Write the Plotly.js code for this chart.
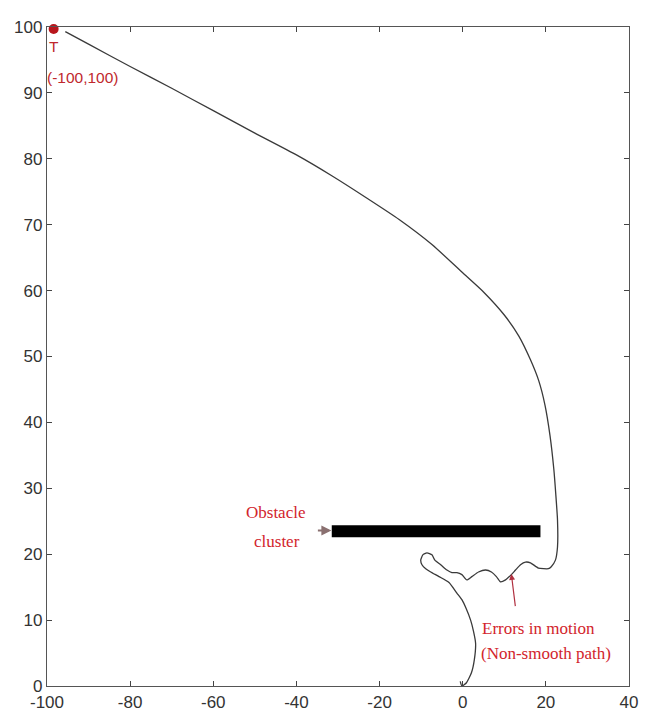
<!DOCTYPE html>
<html>
<head>
<meta charset="utf-8">
<script src="https://cdn.plot.ly/plotly-3.0.1.min.js"></script>
<style>html,body{margin:0;padding:0;background:#fff;}#chart{width:653px;height:720px;}</style>
</head>
<body>
<div id="chart"></div>
<script>
// Robot path from start (0,0) to target T (-100,100)
const pathX = [-0.6, -0.2, 0.9, 2.1, 2.8, 3.1, 2.6, 1.9, 0.8, -0.2, -1.4, -3.3, -5.7, -7.7, -8.9, -9.8, -10.1, -9.6, -8.6, -7.4, -6.7, -5.3, -3.8, -2.6, -1.4, -0.2, 1.0, 2.2, 3.8, 5.5, 6.9, 8.1, 9.1, 10.3, 11.7, 12.7, 13.9, 15.1, 16.3, 18.2, 20.6, 21.3, 22.3, 22.8, 22.8, 22.4, 21.9, 21.0, 19.8, 18.3, 16.3, 13.5, 10.0, 5.0, 0.0, -7.4, -15.3, -23.2, -31.4, -40, -50, -60, -70, -80, -90, -95.6];
const pathY = [0.7, 0.0, 0.5, 2.0, 4.0, 6.5, 8.3, 10.0, 11.8, 13.1, 14.1, 15.7, 16.6, 17.3, 17.8, 18.4, 19.1, 19.9, 20.2, 19.9, 19.1, 18.4, 17.6, 17.2, 17.2, 16.9, 16.1, 16.6, 17.3, 17.6, 17.3, 16.6, 15.8, 16.1, 16.9, 17.6, 18.4, 18.8, 18.7, 17.9, 17.8, 18.1, 19.1, 21.1, 25.2, 29.0, 33.0, 38.0, 42.6, 46.3, 49.5, 53.1, 56.3, 59.8, 62.7, 67.0, 70.8, 74.1, 77.4, 80.6, 83.9, 87.3, 90.7, 94.0, 97.4, 99.3];
// Obstacle cluster
const obstacleX = [-31.5, 18.7];
const obstacleY = [23.5, 23.5];
// Target point
const targetX = [-98.4];
const targetY = [99.7];
// Tick labels
const xTicks = [-100, -80, -60, -40, -20, 0, 20, 40];
const yTicks = [0, 10, 20, 30, 40, 50, 60, 70, 80, 90, 100];

const red = '#d2242c';
const traces = [
  {x: obstacleX, y: obstacleY, mode: 'lines', line: {color: '#000', width: 12}, hoverinfo: 'skip'},
  {x: pathX, y: pathY, mode: 'lines', line: {color: '#3a3a3a', width: 1.3, shape: 'spline', smoothing: 0.5}},
  {x: targetX, y: targetY, mode: 'markers', marker: {color: '#b8161c', size: 10}, cliponaxis: false}
];

const serif = {family: 'Liberation Serif, Times New Roman, serif', size: 17, color: red};
const sans = {family: 'Liberation Sans, Arial, sans-serif', size: 15.5, color: '#c0282d'};

const layout = {
  width: 653, height: 720,
  margin: {l: 47, r: 24, t: 27, b: 34},
  showlegend: false,
  paper_bgcolor: '#fff', plot_bgcolor: '#fff',
  xaxis: {
    range: [-100, 40], tickvals: xTicks, ticktext: xTicks.map(String),
    showgrid: false, zeroline: false, showline: true, mirror: 'ticks',
    linecolor: '#555', linewidth: 1.2, ticks: 'inside', ticklen: 5, tickcolor: '#444',
    tickfont: {family: 'Liberation Sans, Arial, sans-serif', size: 17, color: '#333'}
  },
  yaxis: {
    range: [0, 100], tickvals: yTicks, ticktext: yTicks.map(String),
    showgrid: false, zeroline: false, showline: true, mirror: 'ticks',
    linecolor: '#555', linewidth: 1.2, ticks: 'inside', ticklen: 5, tickcolor: '#444',
    tickfont: {family: 'Liberation Sans, Arial, sans-serif', size: 17, color: '#333'}
  },
  annotations: [
    {x: -98.4, y: 97.0, text: 'T', showarrow: false, font: sans, xanchor: 'center', yanchor: 'middle'},
    {x: -91.3, y: 92.4, text: '(-100,100)', showarrow: false, font: sans, xanchor: 'center', yanchor: 'middle'},
    {x: -45.0, y: 26.3, text: 'Obstacle', showarrow: false, font: serif, xanchor: 'center', yanchor: 'middle'},
    {x: -44.6, y: 21.9, text: 'cluster', showarrow: false, font: serif, xanchor: 'center', yanchor: 'middle'},
    {x: -31.6, y: 23.6, ax: -35.2, ay: 23.6, axref: 'x', ayref: 'y', text: '', showarrow: true,
     arrowhead: 2, arrowsize: 1, arrowwidth: 2, arrowcolor: '#8a7070'},
    {x: 18.2, y: 8.8, text: 'Errors in motion', showarrow: false, font: serif, xanchor: 'center', yanchor: 'middle'},
    {x: 20.1, y: 4.9, text: '(Non-smooth path)', showarrow: false, font: serif, xanchor: 'center', yanchor: 'middle'},
    {x: 11.7, y: 17.0, ax: 12.7, ay: 11.9, axref: 'x', ayref: 'y', text: '', showarrow: true,
     arrowhead: 2, arrowsize: 1, arrowwidth: 1.2, arrowcolor: '#b03040'}
  ]
};

Plotly.newPlot('chart', traces, layout, {displayModeBar: false, staticPlot: true});
</script>
</body>
</html>
